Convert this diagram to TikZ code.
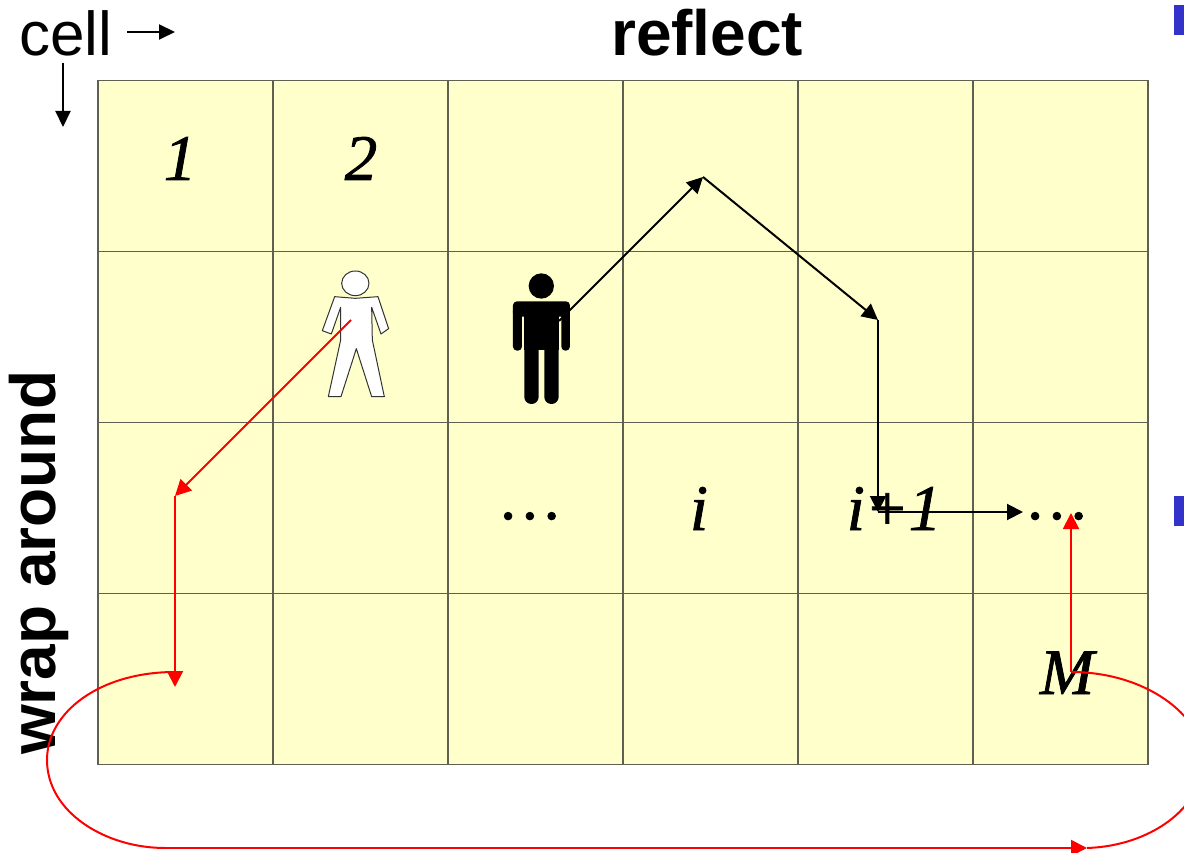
\documentclass[tikz,border=0pt]{standalone}
\usepackage{fontspec}
\setmainfont{Liberation Sans}
\newfontfamily\timesfont{Liberation Serif}[ItalicFeatures={FakeBold=1.2}]
\usetikzlibrary{arrows.meta}
\definecolor{cellyellow}{HTML}{FFFFCC}
\definecolor{gridgray}{HTML}{5F5F52}
\definecolor{bulletblue}{HTML}{3333CC}
\tikzset{
  cellbox/.style={draw=gridgray,fill=cellyellow,line width=1.5pt,minimum width=175pt,minimum height=171pt,inner sep=0pt,anchor=north west},
  headlabel/.style={font=\fontsize{64}{64}\selectfont\bfseries,inner sep=0pt,anchor=base west},
  celltext/.style={font=\fontsize{62}{62}\selectfont,inner sep=0pt,anchor=base west},
  mathlabel/.style={font=\timesfont\itshape\fontsize{65}{65}\selectfont,inner sep=0pt,anchor=base},
  blackarrow/.style={draw=black,line width=2pt,-{Triangle[length=16pt,width=16pt]}},
  smallarrow/.style={draw=black,line width=2pt,-{Triangle[length=16pt,width=15pt]}},
  redarrow/.style={draw=red,line width=2pt,-{Triangle[length=16pt,width=16pt]}},
  redcurve/.style={draw=red,line width=2pt},
  bullet/.style={fill=bulletblue,draw=none,minimum width=10pt,minimum height=30pt,inner sep=0pt,anchor=north west},
}
\begin{document}
\begin{tikzpicture}[x=1pt,y=-1pt]
\useasboundingbox (0,0) rectangle (1184,853);
\clip (0,0) rectangle (1184,853);
\fill[white] (0,0) rectangle (1184,853);
% grid
\foreach \r/\yy in {1/79.6,2/250.6,3/421.6,4/592.6}
  \foreach \c/\xx in {1/97.3,2/272.3,3/447.3,4/622.3,5/797.3,6/972.3}
    \node[cellbox] (c\r-\c) at (\xx,\yy) {};
% bullets
\node[bullet] (b1) at (1174,5) {};
\node[bullet] (b2) at (1174,496) {};
% labels
\node[celltext] (cell) at (19,56) {cell};
\node[headlabel] (reflect) at (611,56) {reflect};
\node[headlabel,rotate=90] (wrap) at (55,755) {wrap around};
\node[mathlabel] (n1) at (180,180) {1};
\node[mathlabel] (n2) at (361,180) {2};
\node[mathlabel] (d1) at (531,519) {…};
\node[mathlabel] (ni) at (699,530) {i};
\node[mathlabel] (nip) at (894,530) {i+1};
\node[mathlabel] (d2) at (1058,519) {…};
\node[mathlabel] (nM) at (1067,694) {M};
% route points
\coordinate (cr) at (127,32);
\coordinate (crE) at (175,32);
\coordinate (cd) at (63,63);
\coordinate (cdE) at (63,127);
\coordinate (k0) at (559,321);
\coordinate (k1) at (703,177);
\coordinate (k2) at (878,320);
\coordinate (k3) at (878,512);
\coordinate (k4) at (1023,512);
\coordinate (r0) at (351,320);
\coordinate (r1) at (175,496);
\coordinate (r2) at (175,687);
\coordinate (r2t) at (175,672);
\coordinate (r3) at (165,848);
\coordinate (r4) at (1087,848);
\coordinate (r5) at (1071,672);
\coordinate (r6) at (1071,513);
% black route under the figure
\draw[blackarrow] (k0) -- (k1);
% figures, in 3x crop units
\begin{scope}[shift={(290,250)},x=0.3333pt,y=-0.3333pt]
  \draw[fill=white,draw=black!80,line width=1pt] (196,100) ellipse [x radius=41,y radius=37];
  \draw[fill=white,draw=black!80,line width=1pt,line join=round]
    (134,140) -- (196,145) -- (264,140) -- (296,236) -- (273,252) -- (245,172) -- (247,270)
    -- (283,440) -- (245,440) -- (199,296) -- (153,440) -- (115,440) -- (152,270) -- (152,172)
    -- (124,252) -- (97,242) -- cycle;
  \fill[black] (754,108) circle [radius=38];
  \fill[black,rounded corners=4pt] (669,154) rectangle (840,200);
  \fill[black,rounded corners=4pt] (669,170) rectangle (696,302);
  \fill[black,rounded corners=4pt] (814,170) rectangle (840,302);
  \fill[black] (703,170) rectangle (806,300);
  \fill[black,rounded corners=7pt] (703,280) rectangle (746,462);
  \fill[black,rounded corners=7pt] (763,280) rectangle (806,462);
\end{scope}
% black route
\draw[blackarrow] (k1) -- (k2);
\draw[blackarrow] (k2) -- (k3);
\draw[blackarrow] (k3) -- (k4);
\draw[smallarrow] (cr) -- (crE);
\draw[smallarrow] (cd) -- (cdE);
% red route
\draw[redarrow] (r0) -- (r1);
\draw[redarrow] (r1) -- (r2);
\draw[redcurve] (r2t) .. controls (100,672) and (47,712) .. (47,760) .. controls (47,812) and (105,848) .. (r3);
\draw[redarrow] (r3) -- (r4);
\draw[redcurve] (r5) .. controls (1145,672) and (1203,715) .. (1203,760) .. controls (1203,808) and (1150,846) .. (r4);
\draw[redarrow] (r5) -- (r6);
\end{tikzpicture}
\end{document}
